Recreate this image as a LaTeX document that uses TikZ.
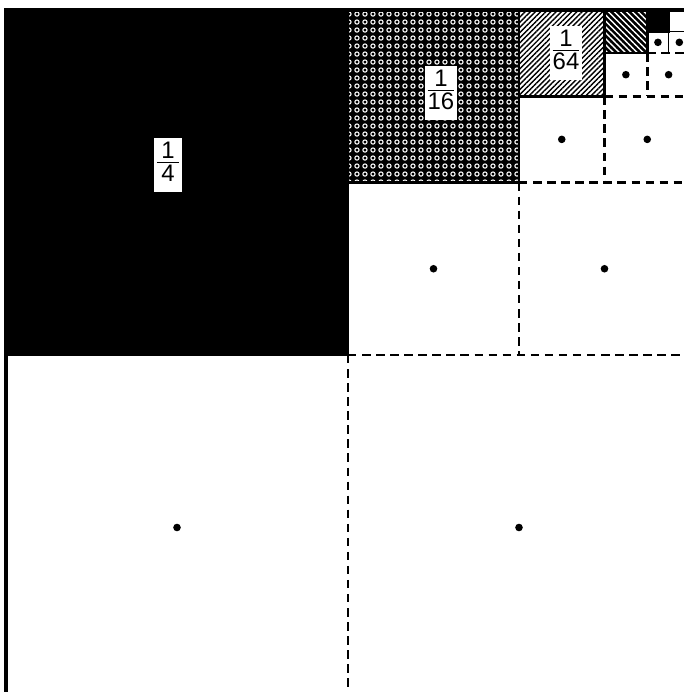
\documentclass[tikz,border=0pt]{standalone}
\usepackage{fontspec}
\setsansfont{Liberation Sans}
\usetikzlibrary{patterns, patterns.meta}

% white rings on the 1/16 square
\tikzdeclarepattern{
  name=rings,
  bottom left={(0pt,0pt)},
  top right={(6pt,6pt)},
  tile size={(6pt,6pt)},
  code={\pgfsetlinewidth{0.8pt}\pgfpathcircle{\pgfpoint{3pt}{3pt}}{1.6pt}\pgfusepath{stroke}}
}

\newcommand{\frlabel}[2]{\begin{tabular}{@{}c@{}}\makebox[16pt]{#1}\\[-3pt]\hline\noalign{\vskip1pt}#2\end{tabular}}

\begin{document}
\begin{tikzpicture}[x=0.025cm, y=-0.025cm,
    cellline/.style={line width=1.8pt},
    dashline/.style={line width=1.8pt, dash pattern=on 6pt off 4pt},
    fraclabel/.style={fill=white, inner sep=1.8pt, font=\sffamily\fontsize{17}{18}\selectfont},
    lvl1/.style={fill=black},
    lvl2/.style={fill=black, postaction={pattern=rings, pattern color=white}},
    lvl3/.style={fill=white, postaction={pattern={Lines[angle=45, distance=2.6pt, line width=1pt]}, pattern color=black}},
    lvl4/.style={fill=black, postaction={pattern={Lines[angle=-45, distance=3pt, line width=1pt]}, pattern color=white}},
    lvl5/.style={fill=black},
    edge1/.style={dashline}, edge2/.style={dashline}, edge3/.style={dashline},
    edge4/.style={dashline}, edge5/.style={cellline, line width=1.2pt}
  ]
  \useasboundingbox (0,0) rectangle (684,692);
  \clip (0,0) rectangle (684,692);
  \fill[white] (0,0) rectangle (684,692);

  % nested quarters, each half the size of the last
  \foreach \k in {1,...,5}{
    \pgfmathsetmacro{\sx}{684/2^\k}
    \pgfmathsetmacro{\sy}{690/2^\k}
    \pgfmathsetmacro{\xk}{690-2*\sx}
    \path[lvl\k] (\xk,10) rectangle ++(\sx,\sy);
    \draw[cellline] (\xk,10) rectangle ++(\sx,\sy);
    \draw[edge\k] ({\xk+\sx},{10+\sy}) -- ++(0,\sy);
    \draw[edge\k] ({\xk+\sx},{10+\sy}) -- ++(\sx,0);
    \fill ({\xk+0.5*\sx},{10+1.5*\sy}) circle[radius=2.7pt];
    \fill ({\xk+1.5*\sx},{10+1.5*\sy}) circle[radius=2.7pt];
  }
  % last empty corner
  \draw[cellline, line width=1.2pt] (668.6,10) |- (690,31.6);

  % outer square
  \draw[line width=2.2pt] (6,10) rectangle (690,700);

  \node[fraclabel] (quarter) at (168,165) {\frlabel{1}{4}};
  \node[fraclabel] (sixteenth) at (441,93) {\frlabel{1}{16}};
  \node[fraclabel] (sixtyfourth) at (566,53) {\frlabel{1}{64}};
\end{tikzpicture}
\end{document}
